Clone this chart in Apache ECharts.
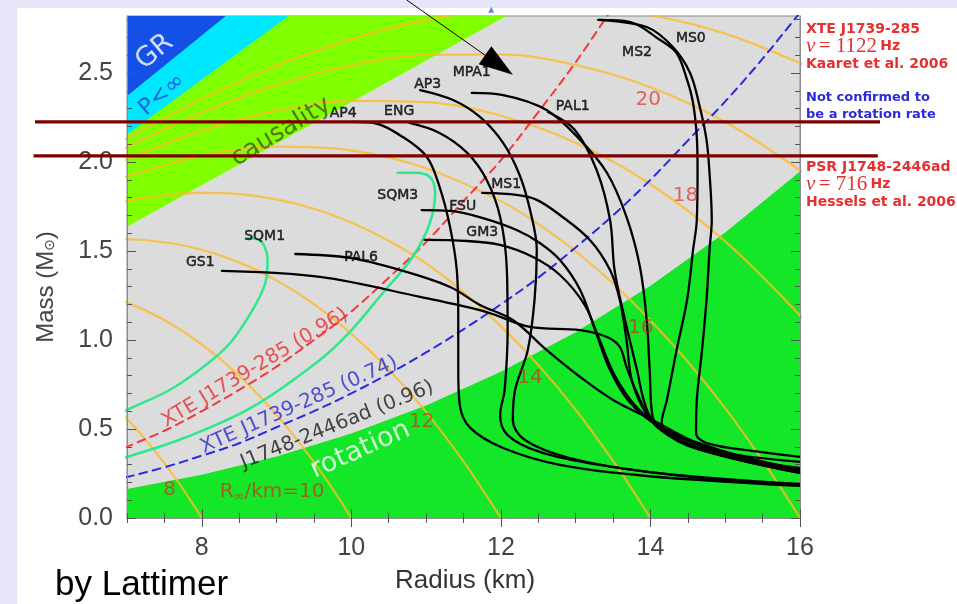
<!DOCTYPE html>
<html><head><meta charset="utf-8">
<script src="https://cdn.jsdelivr.net/npm/echarts@6/dist/echarts.min.js"></script>
<style>
html,body{margin:0;padding:0;width:957px;height:604px;overflow:hidden;background:#e6e6f8;}
#panel{position:absolute;left:17px;top:8px;right:0;bottom:0;background:#ffffff;}
#chart{position:absolute;left:0;top:0;width:957px;height:604px;}
</style></head><body>
<div id="panel"></div><div id="chart"></div>
<script>
// ---------- axis ticks ----------
const xMajorTicks = [8, 10, 12, 14, 16];
const xMinorTicks = [7, 7.5, 8, 8.5, 9, 9.5, 10, 10.5, 11, 11.5, 12, 12.5, 13, 13.5, 14, 14.5, 15, 15.5, 16];
const yMajorTicks = [0, 0.5, 1.0, 1.5, 2.0, 2.5];
const yMinorTicks = [0, 0.1, 0.2, 0.3, 0.4, 0.5, 0.6, 0.7, 0.8, 0.9, 1.0, 1.1, 1.2, 1.3, 1.4, 1.5, 1.6, 1.7, 1.8, 1.9, 2.0, 2.1, 2.2, 2.3, 2.4, 2.5, 2.6, 2.7, 2.8];
const xRange = [7, 16];
const yRange = [0, 2.82];

// ---------- excluded regions (boundary lines) ----------
const grEdge = [[6.5, 2.20], [9.2, 3.12]];
const finitePressureEdge = [[6.5, 2.00], [10.2, 3.14]];
const causalityEdge = [[6.5, 1.52], [13.4, 3.13]];
const rotationEdge = [[6.5, 0.13], [7, 0.163], [8, 0.243], [9, 0.346], [10, 0.475], [11, 0.632], [12, 0.821], [13, 1.044], [14, 1.304], [15, 1.604], [16, 1.947], [16.5, 2.14]];

// ---------- R_inf contours ----------
const contour8 = [[6.5, 0.749], [7, 0.556], [7.25, 0.439], [7.5, 0.308], [7.75, 0.162], [8, 0]];
const contour10 = [[6.5, 1.272], [7, 1.210], [7.5, 1.112], [8, 0.976], [8.5, 0.800], [9, 0.580], [9.5, 0.314], [9.75, 0.163], [10, 0]];
const contour12 = [[6.5, 1.557], [7, 1.566], [7.5, 1.549], [8, 1.507], [8.5, 1.436], [9, 1.335], [9.5, 1.202], [10, 1.036], [10.5, 0.834], [11, 0.596], [11.5, 0.318], [11.75, 0.162], [12, 0]];
const contour14 = [[6.5, 1.728], [7, 1.780], [7.5, 1.813], [8, 1.826], [8.5, 1.819], [9, 1.790], [9.5, 1.737], [10, 1.660], [10.5, 1.557], [11, 1.430], [11.5, 1.268], [12, 1.078], [12.5, 0.859], [13, 0.608], [13.5, 0.321], [13.75, 0.164], [14, 0]];
const contour16 = [[6.5, 1.839], [7, 1.919], [8, 2.034], [9, 2.086], [10, 2.065], [11, 1.965], [12, 1.780], [12.5, 1.651], [13, 1.498], [13.5, 1.318], [14, 1.110], [14.5, 0.878], [15, 0.617], [15.5, 0.323], [15.75, 0.165], [16, 0]];
const contour18 = [[6.5, 1.916], [7, 2.014], [8, 2.176], [9, 2.288], [10, 2.343], [11, 2.336], [12, 2.260], [13, 2.108], [14, 1.875], [15, 1.554], [16, 1.138], [16.5, 0.893]];
const contour20 = [[6.5, 1.970], [7, 2.083], [8, 2.278], [9, 2.433], [10, 2.543], [11, 2.601], [12, 2.604], [13, 2.545], [14, 2.420], [15, 2.225], [16, 1.953], [16.5, 1.787]];
const contour22 = [[6.5, 2.011], [7, 2.133], [8, 2.353], [9, 2.540], [10, 2.690], [11, 2.797], [12, 2.858], [13, 2.869], [14, 2.824], [15, 2.721], [16, 2.555], [16.5, 2.447]];

// ---------- spin limits (dashed) ----------
const xte096 = [[6.8, 0.36], [7, 0.40], [7.5, 0.49], [8, 0.60], [8.5, 0.72], [9, 0.85], [9.5, 1.00], [10, 1.16], [10.5, 1.35], [11, 1.55], [11.5, 1.78], [12, 2.01], [12.5, 2.28], [13, 2.56], [13.5, 2.87]];
const xte074 = [[6.8, 0.21], [7, 0.23], [7.5, 0.285], [8, 0.35], [8.5, 0.42], [9, 0.51], [9.5, 0.60], [10, 0.70], [10.5, 0.81], [11, 0.93], [11.5, 1.06], [12, 1.20], [12.5, 1.35], [13, 1.52], [13.5, 1.70], [14, 1.90], [14.5, 2.12], [15, 2.34], [15.5, 2.58], [16, 2.84]];

// ---------- strange quark matter ----------
const sqm1 = [[6.6, 0.52], [7.0, 0.607], [7.57, 0.719], [8.02, 0.848], [8.38, 0.983], [8.68, 1.169], [8.85, 1.320], [8.88, 1.449], [8.82, 1.54], [8.72, 1.568], [8.60, 1.573]];
const sqm3 = [[6.6, 0.30], [7.0, 0.343], [7.80, 0.455], [8.68, 0.624], [9.58, 0.888], [9.98, 1.045], [10.42, 1.264], [10.82, 1.466], [11.05, 1.657], [11.12, 1.826], [11.05, 1.916], [10.85, 1.94], [10.62, 1.94]];

// ---------- hadronic EOS ----------
const eosAP4 = [[10.01, 2.225], [10.29, 2.219], [10.69, 2.140], [11.01, 2.028], [11.18, 1.860], [11.32, 1.635], [11.41, 1.393], [11.43, 1.112], [11.43, 0.831], [11.45, 0.635], [11.59, 0.506], [12.03, 0.393], [12.79, 0.298], [13.95, 0.236], [16.0, 0.180]];
const eosENG = [[10.78, 2.219], [11.18, 2.163], [11.55, 2.051], [11.81, 1.899], [11.99, 1.691], [12.08, 1.393], [12.09, 1.056], [12.05, 0.719], [11.99, 0.580], [12.09, 0.466], [12.52, 0.371], [13.32, 0.298], [14.66, 0.225], [16.0, 0.185]];
const eosAP3 = [[10.92, 2.404], [11.36, 2.348], [11.72, 2.253], [12.03, 2.107], [12.25, 1.927], [12.39, 1.730], [12.48, 1.506], [12.45, 1.225], [12.36, 0.944], [12.19, 0.719], [12.16, 0.551], [12.32, 0.438], [12.92, 0.337], [13.99, 0.258], [16.0, 0.191]];
const eosMPA1 = [[11.61, 2.388], [12.03, 2.376], [12.61, 2.292], [13.06, 2.124], [13.42, 1.938], [13.68, 1.691], [13.86, 1.410], [13.95, 1.112], [13.99, 0.831], [14.03, 0.567], [14.30, 0.455], [14.83, 0.365], [16.0, 0.253]];
const eosPAL1 = [[12.63, 2.281], [12.99, 2.180], [13.28, 1.955], [13.46, 1.674], [13.52, 1.393], [13.66, 1.112], [13.82, 0.831], [13.93, 0.635], [14.10, 0.506], [14.66, 0.382], [16.0, 0.281]];
const eosMS1 = [[11.75, 1.826], [12.21, 1.815], [12.48, 1.787], [12.79, 1.702], [13.19, 1.562], [13.46, 1.393], [13.59, 1.225], [13.68, 1.0], [13.75, 0.775], [13.93, 0.596], [14.19, 0.483], [14.79, 0.382], [16.0, 0.315]];
const eosFSU = [[10.94, 1.730], [11.32, 1.725], [11.76, 1.685], [12.21, 1.618], [12.52, 1.545], [12.79, 1.449], [13.06, 1.281], [13.26, 1.056], [13.46, 0.831], [13.72, 0.652], [14.13, 0.511], [14.93, 0.382], [16.0, 0.270]];
const eosGM3 = [[10.98, 1.562], [11.55, 1.556], [11.99, 1.534], [12.43, 1.466], [12.79, 1.365], [13.12, 1.197], [13.32, 1.0], [13.52, 0.803], [13.79, 0.635], [14.19, 0.494], [14.93, 0.371], [16.0, 0.258]];
const eosGS1 = [[8.27, 1.388], [9.58, 1.354], [10.92, 1.242], [11.81, 1.157], [12.39, 1.073], [13.06, 1.056], [13.42, 1.017], [13.59, 0.961], [13.68, 0.848], [13.82, 0.702], [13.95, 0.596], [14.26, 0.466], [14.93, 0.354], [16.0, 0.270]];
const eosPAL6 = [[9.25, 1.483], [9.98, 1.461], [10.65, 1.393], [11.32, 1.298], [11.72, 1.197], [12.16, 1.112], [12.61, 0.944], [13.06, 0.792], [13.50, 0.663], [13.95, 0.567], [14.83, 0.382], [16.0, 0.258]];
const eosMS2 = [[13.32, 2.798], [13.72, 2.787], [14.13, 2.685], [14.35, 2.612], [14.49, 2.461], [14.57, 2.331], [14.62, 2.140], [14.63, 1.955], [14.62, 1.674], [14.57, 1.506], [14.49, 1.225], [14.35, 0.944], [14.22, 0.663], [14.15, 0.534], [14.30, 0.455], [14.83, 0.365], [16.0, 0.253]];
const eosMS0 = [[13.30, 2.798], [13.95, 2.758], [14.30, 2.646], [14.53, 2.500], [14.66, 2.309], [14.75, 2.124], [14.79, 1.938], [14.82, 1.674], [14.79, 1.506], [14.75, 1.225], [14.69, 0.944], [14.62, 0.663], [14.61, 0.478], [14.75, 0.421], [15.46, 0.371], [16.0, 0.343]];

// ---------- labels ----------
const eosLabels = [['GS1', 7.98, 1.438], ['SQM1', 8.84, 1.584], ['SQM3', 10.62, 1.815], ['PAL6', 10.13, 1.466], ['FSU', 11.49, 1.753], ['GM3', 11.75, 1.607], ['MS1', 12.07, 1.876], ['AP4', 9.89, 2.275], ['ENG', 10.64, 2.287], ['AP3', 11.02, 2.438], ['MPA1', 11.61, 2.506], ['PAL1', 12.96, 2.315], ['MS2', 13.82, 2.618], ['MS0', 14.54, 2.697]];
const contourLabels = [['8', 7.57, 0.157], ['12', 10.94, 0.539], ['14', 12.39, 0.787], ['16', 13.87, 1.067], ['18', 14.47, 1.809], ['20', 13.97, 2.348]];
const regionLabels = [
  ['GR', 7.37, 2.618, 40, '#ffffff', 27],
  ['P<∞', 7.47, 2.376, 40, '#2545c8', 23],
  ['causality', 9.06, 2.169, 31, '#4b5320', 25],
  ['XTE J1739-285 (0.96)', 8.71, 0.843, 31, '#e83030', 20],
  ['XTE J1739-285 (0.74)', 9.30, 0.635, 24, '#2a2ad0', 20],
  ['J1748-2446ad (0.96)', 9.81, 0.522, 22, '#1a1a1a', 20],
  ['rotation', 10.12, 0.382, 24, '#ffffff', 27]
];
const massLines = [[5.77, 17.07, 2.225], [5.75, 17.04, 2.034]];
const arrowLine = [[10.74, 2.91, 12.16, 2.49]];
const topMarker = [[11.87, 2.855]];

// ---------- build ----------
const chart = echarts.init(document.getElementById('chart'), null, {renderer: 'canvas'});
const SANS = 'Liberation Sans, Arial, sans-serif';
const DJ = 'DejaVu Sans, sans-serif';
const topY = 3.3, botY = -0.3, leftX = 6.0;

function polygonSeries(points, fill, z) {
  return {
    type: 'custom', coordinateSystem: 'cartesian2d', clip: true, silent: true, z: z,
    data: [[points[0][0], points[0][1]]],
    renderItem: function (params, api) {
      return {type: 'polygon', shape: {points: points.map(p => api.coord(p))}, style: {fill: fill}};
    }
  };
}
function lineSeries(data, color, width, dash, z) {
  return {
    type: 'line', data: data, showSymbol: false, symbol: 'none', smooth: 0.35, clip: true, silent: true, z: z,
    lineStyle: {color: color, width: width, type: dash || 'solid', cap: 'round', join: 'round'}
  };
}
function upperPoly(edge) {
  const last = edge[edge.length - 1];
  return edge.concat([[last[0], topY], [leftX, topY]]);
}
const rotationPoly = rotationEdge.concat([[rotationEdge[rotationEdge.length - 1][0], botY], [leftX, botY]]);

const series = [];
series.push(polygonSeries(upperPoly(causalityEdge), '#80ff00', 1));
series.push(polygonSeries(upperPoly(finitePressureEdge), '#00e8ff', 1));
series.push(polygonSeries(upperPoly(grEdge), '#1450e6', 1));
series.push(polygonSeries(rotationPoly, '#14e628', 1));

const orange = 'rgba(255,185,40,0.8)';
[contour8, contour10, contour12, contour14, contour16, contour18, contour20, contour22].forEach(c => series.push(lineSeries(c, orange, 2.2, 'solid', 3)));
series.push(lineSeries(xte096, '#f03a3a', 2, [8, 6], 4));
series.push(lineSeries(xte074, '#2a2ae0', 2, [8, 6], 4));
series.push(lineSeries(sqm1, '#2ee88e', 2.5, 'solid', 5));
series.push(lineSeries(sqm3, '#2ee88e', 2.5, 'solid', 5));
[eosAP4, eosENG, eosAP3, eosMPA1, eosPAL1, eosMS1, eosFSU, eosGM3, eosGS1, eosPAL6, eosMS2, eosMS0].forEach(c => series.push(lineSeries(c, '#000000', 2.3, 'solid', 6)));

function textScatter(items, z) {
  return {type: 'scatter', symbolSize: 1, silent: true, z: z, clip: false, itemStyle: {color: 'rgba(0,0,0,0)'}, data: items};
}
series.push(textScatter(eosLabels.map(t => ({value: [t[1], t[2]], label: {show: true, position: 'inside', formatter: t[0], color: '#000', fontSize: 14, fontFamily: DJ, textBorderColor: '#000', textBorderWidth: 0.5}})), 10));
series.push(textScatter(contourLabels.map(t => ({value: [t[1], t[2]], label: {show: true, position: 'inside', formatter: t[0], color: 'rgba(228,30,30,0.82)', fontSize: 20, fontFamily: DJ}})), 10));
series.push(textScatter([{value: [8.94, 0.146], label: {show: true, position: 'inside', formatter: '{a|R}{b|∞}{a|/km=10}', rich: {a: {color: 'rgba(228,30,30,0.82)', fontSize: 20, fontFamily: DJ}, b: {color: 'rgba(228,30,30,0.82)', fontSize: 13, fontFamily: DJ, padding: [10, 0, 0, 0]}}}}], 10));
series.push(textScatter(regionLabels.map(t => ({value: [t[1], t[2]], label: {show: true, position: 'inside', formatter: t[0], rotate: t[3], color: t[4], fontSize: t[5], fontFamily: DJ}})), 10));

series.push({
  type: 'custom', coordinateSystem: 'cartesian2d', clip: false, silent: true, z: 40, data: massLines,
  renderItem: function (params, api) {
    const a = api.coord([api.value(0), api.value(2)]);
    const b = api.coord([api.value(1), api.value(2)]);
    return {type: 'line', shape: {x1: a[0], y1: a[1], x2: b[0], y2: b[1]}, style: {stroke: '#7d0000', lineWidth: 3.2}};
  }
});
series.push({
  type: 'custom', coordinateSystem: 'cartesian2d', clip: false, silent: true, z: 41, data: arrowLine,
  renderItem: function (params, api) {
    const a = api.coord([api.value(0), api.value(1)]);
    const b = api.coord([api.value(2), api.value(3)]);
    const dx = b[0] - a[0], dy = b[1] - a[1], L = Math.hypot(dx, dy), ux = dx / L, uy = dy / L;
    const hl = 34, hw = 11;
    const base = [b[0] - ux * hl, b[1] - uy * hl];
    const p1 = [base[0] - uy * hw, base[1] + ux * hw], p2 = [base[0] + uy * hw, base[1] - ux * hw];
    return {type: 'group', children: [
      {type: 'line', shape: {x1: a[0], y1: a[1], x2: base[0], y2: base[1]}, style: {stroke: '#000', lineWidth: 1}},
      {type: 'polygon', shape: {points: [b, p1, p2]}, style: {fill: '#000'}}
    ]};
  }
});
series.push({type: 'scatter', data: topMarker, symbol: 'triangle', symbolSize: 6, clip: false, silent: true, z: 20, itemStyle: {color: '#4060e0'}});

function xAxisDef(pos, ticks, len, showLabel, showLine) {
  return {
    type: 'value', position: pos, min: xRange[0], max: xRange[1], z: 8,
    axisLine: {show: showLine, lineStyle: {color: '#8c8c8c', width: 1}},
    axisTick: {show: true, inside: true, length: len, customValues: ticks, lineStyle: {color: '#555', width: 1}},
    axisLabel: showLabel ? {show: true, customValues: xMajorTicks, margin: 18, fontSize: 25, color: '#444', fontFamily: SANS} : {show: false},
    splitLine: {show: false}
  };
}
function yAxisDef(pos, ticks, len, showLabel, showLine) {
  return {
    type: 'value', position: pos, min: yRange[0], max: yRange[1], z: 8,
    axisLine: {show: showLine, lineStyle: {color: '#8c8c8c', width: 1}},
    axisTick: {show: true, inside: true, length: len, customValues: ticks, lineStyle: {color: '#555', width: 1}},
    axisLabel: showLabel ? {show: true, customValues: yMajorTicks, margin: 14, fontSize: 25, color: '#444', fontFamily: SANS, formatter: v => v.toFixed(1)} : {show: false},
    splitLine: {show: false}
  };
}

const red = '#e63030', blue = '#2a2ad8';
const rightX = 806;
const graphics = [
  {type: 'text', x: 465, y: 581, style: {text: 'Radius (km)', fontSize: 26, fontFamily: SANS, fill: '#333', align: 'center', verticalAlign: 'middle'}},
  {type: 'text', x: 46, y: 287, rotation: Math.PI / 2, style: {text: '{a|Mass (M}{b|⊙}{a|)}', rich: {a: {fontSize: 24, fontFamily: SANS, fill: '#444'}, b: {fontSize: 14, fontFamily: DJ, fill: '#444', padding: [8, 0, 0, 0]}}, align: 'center', verticalAlign: 'middle'}},
  {type: 'text', x: 55, y: 585, style: {text: 'by Lattimer', fontSize: 35, fontFamily: SANS, fill: '#000', align: 'left', verticalAlign: 'middle'}},
  {type: 'text', x: rightX, y: 29, style: {text: 'XTE J1739-285', fontSize: 14, fontWeight: 'bold', fontFamily: DJ, fill: red, verticalAlign: 'middle'}},
  {type: 'text', x: rightX, y: 46, style: {text: '{n|ν} {s|= 1122} {h|Hz}', rich: {n: {fontSize: 21, fontStyle: 'italic', fontFamily: 'Liberation Serif, serif', fill: red}, s: {fontSize: 21, fontFamily: 'Liberation Serif, serif', fill: red}, h: {fontSize: 14, fontWeight: 'bold', fontFamily: DJ, fill: red}}, verticalAlign: 'middle'}},
  {type: 'text', x: rightX, y: 64, style: {text: 'Kaaret et al. 2006', fontSize: 14, fontWeight: 'bold', fontFamily: DJ, fill: red, verticalAlign: 'middle'}},
  {type: 'text', x: rightX, y: 98, style: {text: 'Not confirmed to', fontSize: 13, fontWeight: 'bold', fontFamily: DJ, fill: blue, verticalAlign: 'middle'}},
  {type: 'text', x: rightX, y: 115, style: {text: 'be a rotation rate', fontSize: 13, fontWeight: 'bold', fontFamily: DJ, fill: blue, verticalAlign: 'middle'}},
  {type: 'text', x: rightX, y: 167, style: {text: 'PSR J1748-2446ad', fontSize: 14, fontWeight: 'bold', fontFamily: DJ, fill: red, verticalAlign: 'middle'}},
  {type: 'text', x: rightX, y: 184, style: {text: '{n|ν} {s|= 716} {h|Hz}', rich: {n: {fontSize: 21, fontStyle: 'italic', fontFamily: 'Liberation Serif, serif', fill: red}, s: {fontSize: 21, fontFamily: 'Liberation Serif, serif', fill: red}, h: {fontSize: 14, fontWeight: 'bold', fontFamily: DJ, fill: red}}, verticalAlign: 'middle'}},
  {type: 'text', x: rightX, y: 202, style: {text: 'Hessels et al. 2006', fontSize: 14, fontWeight: 'bold', fontFamily: DJ, fill: red, verticalAlign: 'middle'}}
];

chart.setOption({
  animation: false,
  backgroundColor: 'transparent',
  textStyle: {fontFamily: SANS},
  grid: {left: 127, right: 157, top: 16, bottom: 86, show: true, backgroundColor: '#dcdcdc', borderColor: '#8c8c8c', borderWidth: 1},
  xAxis: [
    xAxisDef('bottom', xMajorTicks, 9, true, true),
    xAxisDef('bottom', xMinorTicks, 5, false, false),
    xAxisDef('top', xMajorTicks, 9, false, true),
    xAxisDef('top', xMinorTicks, 5, false, false)
  ],
  yAxis: [
    yAxisDef('left', yMajorTicks, 9, true, true),
    yAxisDef('left', yMinorTicks, 5, false, false),
    yAxisDef('right', yMajorTicks, 9, false, true),
    yAxisDef('right', yMinorTicks, 5, false, false)
  ],
  series: series,
  graphic: graphics
});
</script></body></html>
